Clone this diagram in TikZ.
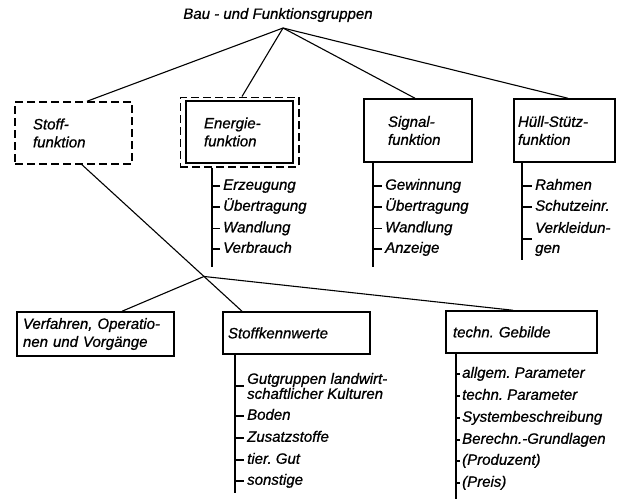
\documentclass[tikz,border=0pt]{standalone}
\usepackage{fontspec}
\setmainfont{Liberation Sans}[ItalicFeatures={FakeBold=0.8}]
\usetikzlibrary{calc,fit}
\frenchspacing
\begin{document}
\begin{tikzpicture}[x=1pt,y=-1pt,
  every node/.style={font=\fontsize{15}{18}\selectfont\itshape},
  box/.style={draw, line width=1.5pt, align=left, inner ysep=2pt},
  dashbox/.style={box, dash pattern=on 8pt off 4pt},
  link/.style={line width=1.1pt},
  item/.style={anchor=west, inner sep=0pt, text height=11pt, text depth=3.5pt},
  itemtwo/.style={anchor=west, inner sep=0pt, align=left},
]
\useasboundingbox (0,0) rectangle (618,499);

% top level
\node (title) at (278,15) {Bau - und Funktionsgruppen};
\coordinate (apex) at (283,28);

\node[dashbox, minimum width=117pt, minimum height=62pt, text width=81pt, inner xsep=18pt]
  (stoff) at (73.5,133) {Stoff-\\funktion};
\node[box, minimum width=107pt, minimum height=62pt, text width=71pt, inner xsep=18pt]
  (energie) at (239.5,132) {Energie-\\funktion};
\node[fit=(energie), draw, line width=1.5pt, dash pattern=on 8pt off 4pt,
  inner xsep=5pt, inner ysep=3pt] (energiefr) {};
\node[box, minimum width=108pt, minimum height=63pt, text width=60pt, inner xsep=24pt]
  (signal) at (418,130.5) {Signal-\\funktion};
\node[box, minimum width=101pt, minimum height=63pt, text width=93pt, inner xsep=4pt]
  (huell) at (564.5,130.5) {Hüll-Stütz-\\funktion};

\draw[link] (apex) -- ([xshift=13.5pt]stoff.north);
\draw[link] (apex) -- ([xshift=2.5pt]energiefr.north);
\draw[link] (apex) -- ([xshift=-3pt]signal.north);
\draw[link] (apex) -- ([xshift=3.5pt]huell.north);

% second level
\node[box, minimum width=157pt, minimum height=44pt, text width=145pt, inner xsep=6pt]
  (verf) at (95.5,334) {Verfahren, Operatio-\\nen und Vorgänge};
\node[box, minimum width=147pt, minimum height=42pt, text width=137pt, inner xsep=5pt]
  (kenn) at (296.5,333) {Stoffkennwerte};
\node[box, minimum width=151pt, minimum height=42pt, text width=137pt, inner xsep=7pt]
  (techn) at (521.5,332) {techn. Gebilde};

\coordinate (sa) at ([xshift=8.5pt]stoff.south);
\coordinate (kb) at ([xshift=-54.5pt]kenn.north);
\draw[link] (sa) -- (kb);
\coordinate (junc) at ($(sa)!0.7625!(kb)$);
\draw[link] (junc) -- ([xshift=26.5pt]verf.north);
\draw[link] (junc) -- ([xshift=-8.5pt]techn.north);

% list under Energiefunktion
\coordinate (eend) at (212,267);
\draw[link] (energiefr.south -| eend) -- (eend);
\foreach \t/\y [count=\i] in {Erzeugung/186, Übertragung/207, Wandlung/228.5, Verbrauch/249} {
  \node[item] (e\i) at (223,\y) {\t};
  \draw[link] (e\i.west -| eend) -- ([xshift=-3pt]e\i.west);
}

% list under Signalfunktion
\coordinate (send) at (373,267);
\draw[link] (signal.south -| send) -- (send);
\foreach \t/\y [count=\i] in {Gewinnung/186, Übertragung/207, Wandlung/228.5, Anzeige/249} {
  \node[item] (s\i) at (385,\y) {\t};
  \draw[link] (s\i.west -| send) -- ([xshift=-3pt]s\i.west);
}

% list under Hüll-Stützfunktion
\coordinate (hend) at (522,260);
\draw[link] (huell.south -| hend) -- (hend);
\foreach \t/\y [count=\i] in {Rahmen/186, Schutzeinr./207} {
  \node[item] (h\i) at (535,\y) {\t};
  \draw[link] (h\i.west -| hend) -- ([xshift=-3pt]h\i.west);
}
\node[itemtwo] (h3) at (535,239) {Verkleidun-\\[2pt]gen};
\draw[link] (h3.west -| hend) -- ([xshift=-3pt]h3.west);

% list under Stoffkennwerte
\coordinate (kend) at (235,493);
\draw[link] (kenn.south -| kend) -- (kend);
\node[itemtwo] (k1) at (247,386) {Gutgruppen landwirt-\\[-3pt]schaftlicher Kulturen};
\draw[link] (k1.west -| kend) -- ([xshift=-3pt]k1.west);
\foreach \t/\y [count=\i from 2] in {Boden/416, Zusatzstoffe/438, tier. Gut/460, sonstige/481} {
  \node[item] (k\i) at (247,\y) {\t};
  \draw[link] (k\i.west -| kend) -- ([xshift=-3pt]k\i.west);
}

% list under techn. Gebilde
\coordinate (tend) at (456,499);
\draw[link] (techn.south -| tend) -- (tend);
\foreach \t/\y [count=\i] in {allgem. Parameter/374, techn. Parameter/396,
    Systembeschreibung/418, Berechn.-Grundlagen/440, (Produzent)/461, (Preis)/483} {
  \node[item] (t\i) at (462,\y) {\t};
  \draw[link] (t\i.west -| tend) -- ([xshift=-2pt]t\i.west);
}
\end{tikzpicture}
\end{document}
